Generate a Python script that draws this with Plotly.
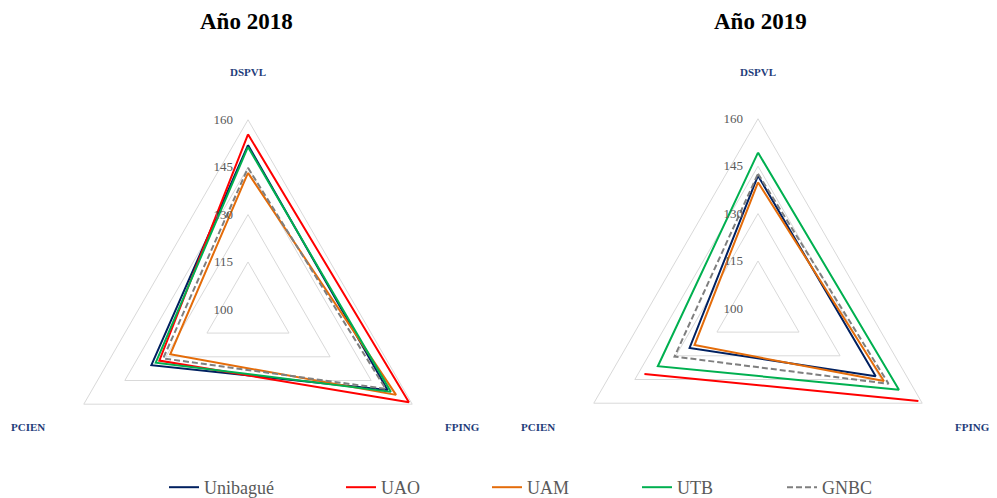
import plotly.graph_objects as go

axes = ["DSPVL", "FPING", "PCIEN"]
series = ["Unibagué", "UAO", "UAM", "UTB", "GNBC"]
colors = ["#002060", "#ff0000", "#e46c0a", "#00b050", "#7f7f7f"]
dashes = ["solid", "solid", "solid", "solid", "6px,3px"]

vals_2018 = {
    "Unibagué": [152.0, 151.0, 135.3],
    "UAO": [155.4, 158.8, 132.4],
    "UAM": [143.2, 154.1, 128.4],
    "UTB": [151.4, 152.2, 133.7],
    "GNBC": [144.8, 150.3, 131.0],
}
vals_2019 = {
    "Unibagué": [142.0, 143.0, 125.0],
    "UAO": [None, 158.6, 141.5],
    "UAM": [139.9, 146.0, 123.2],
    "UTB": [149.3, 151.5, 136.6],
    "GNBC": [142.6, 147.7, 130.5],
}
radial_ticks = [100, 115, 130, 145, 160]
titles = ["Año 2018", "Año 2019"]

W, H = 997, 498
OX, OY = 8, 8  # page body offset compensation
R = 190

def px(x):
    return (x - OX) / W

def py(y):
    return (H - (y - OY)) / H

fig = go.Figure()
legend_names = ["legend", "legend2", "legend3", "legend4", "legend5"]
for k, (vals, pol) in enumerate([(vals_2018, "polar"), (vals_2019, "polar2")]):
    for i, (name, col, dsh) in enumerate(zip(series, colors, dashes)):
        r = vals[name] + [vals[name][0]]
        th = axes + [axes[0]]
        fig.add_trace(go.Scatterpolar(
            r=r, theta=th, subplot=pol, mode="lines", name=name,
            line=dict(color=col, width=2, dash=dsh),
            connectgaps=False, showlegend=(k == 0), legend=legend_names[i],
            hoverinfo="skip"))

def dom(cx, cy):
    return dict(x=[px(cx - R), px(cx + R)], y=[py(cy + R), py(cy - R)])

polar_common = dict(
    gridshape="linear", bgcolor="white",
    radialaxis=dict(range=[100, 160], tickvals=radial_ticks, angle=90, showline=False,
                    gridcolor="#d9d9d9", gridwidth=1, ticks="outside", ticklen=10,
                    tickcolor="rgba(0,0,0,0)", side="counterclockwise",
                    tickangle=90,
                    tickfont=dict(family="Liberation Serif", size=13, color="#595959")),
    angularaxis=dict(direction="clockwise", rotation=90, showgrid=False, showticklabels=False,
                     ticks="", linecolor="#d9d9d9", linewidth=1, categoryarray=axes,
                     categoryorder="array"),
)

legend_line_ends = [204, 381, 527, 677, 822]
legends = {}
for ln, xe in zip(legend_names, legend_line_ends):
    legends[ln] = dict(orientation="h", x=px(xe - 40), xanchor="left", y=py(488), yanchor="middle",
                       font=dict(family="Liberation Serif", size=18, color="#595959"),
                       bgcolor="rgba(0,0,0,0)")

fig.update_layout(
    width=W, height=H, margin=dict(l=0, r=0, t=0, b=0),
    paper_bgcolor="white", plot_bgcolor="white",
    polar=dict(domain=dom(248, 310), **polar_common),
    polar2=dict(domain=dom(758, 309), **polar_common),
    **legends,
)

ann = []
for t, x in zip(titles, [246, 760]):
    ann.append(dict(text=f"<b>{t}</b>", x=px(x), y=py(22), xref="paper", yref="paper",
                    xanchor="center", yanchor="middle", showarrow=False,
                    font=dict(family="Liberation Serif", size=23, color="#000000")))
lab_pos = [("DSPVL", 248, 72), ("FPING", 462, 428), ("PCIEN", 28, 428),
           ("DSPVL", 758, 72), ("FPING", 972, 428), ("PCIEN", 538, 428)]
for t, x, y in lab_pos:
    ann.append(dict(text=f"<b>{t}</b>", x=px(x), y=py(y), xref="paper", yref="paper",
                    xanchor="center", yanchor="middle", showarrow=False,
                    font=dict(family="Liberation Serif", size=11, color="#1f3d7a")))
fig.update_layout(annotations=ann)

fig.write_html("out.html")
